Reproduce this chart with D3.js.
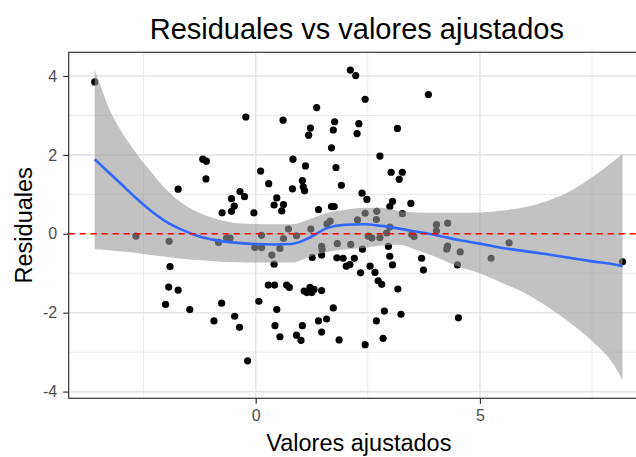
<!DOCTYPE html>
<html>
<head>
<meta charset="utf-8">
<script src="https://cdn.jsdelivr.net/npm/d3@7"></script>
<style>
  body { margin: 0; background: #fff; }
  text { font-family: "Liberation Sans", Arial, sans-serif; }
</style>
</head>
<body>
<svg id="chart" width="636" height="457"></svg>
<script>
// Fitted values (x) and residuals (y) of the model
const fitted = [
  -3.59, -1.73, -1.18, -1.10, -1.11, -0.75, -0.54, -0.54, -0.48, -0.35, -0.25, -0.22, -0.04, 0.11, 0.29, 0.47,
  0.41, 0.62, 0.58, 0.61, 0.83, 0.82, 1.04, 1.06, 1.09, 1.11, 1.18, 1.22, 1.36, 1.40, 1.69, 1.73,
  1.76, 1.69, 1.75, 1.79, 1.91, 2.11, 2.23, 2.44, 2.26, 2.30, 2.37, 2.48, 2.77, 3.02, 3.27, 3.20,
  3.16, 3.05, 2.99, 3.46, 3.85,
  -2.67, -1.93, -0.83, -0.65, -0.57, -0.02, 0.13, 0.13, 0.36, 0.54, 0.62, 0.73, 0.91, 1.23, 1.47, 1.59,
  1.66, 1.82, 2.12, 2.27, 2.44, 2.51, 2.70, 2.69, 2.77, 2.92, 2.59, 2.99, 3.27, 3.48, 3.53, 4.03,
  4.28, 4.03, 4.28, 4.26, 4.56, 5.25, 5.65,
  -1.91, -1.94, -1.73, -2.01, -1.47, -0.93, -0.76, -0.47, -0.36, -0.18, 0.07, 0.41, 0.28, 0.42, 0.69, 0.75,
  0.47, 0.43, 0.54, 1.04, 0.91, 1.01, 1.08, 1.14, 1.21, 1.25, 1.30, 1.47, 1.26, 1.47, 1.48, 1.40,
  1.58, 1.47, 1.73, 1.86, 2.44, 1.81, 1.95, 2.02, 2.10, 2.20, 2.38, 2.34, 2.55, 2.66, 2.73, 2.81,
  3.17, 2.96, 2.99, 3.05, 2.87, 2.69, 3.24, 2.84, 3.70, 3.74, 4.50, 4.52, 8.18
];
const residuals = [
  3.85, 1.13, 1.89, 1.84, 1.39, 0.53, 0.89, 0.57, 0.70, 1.07, 0.94, 2.96, 0.53, 1.59, 1.27, 0.91,
  0.73, 0.74, 0.58, 2.88, 1.89, 1.14, 1.35, 1.19, 1.09, 1.72, 2.50, 2.68, 3.20, 0.61, 2.18, 2.63,
  2.84, 0.69, 0.69, 1.68, 1.23, 4.15, 4.01, 3.41, 2.54, 2.79, 1.03, 0.87, 1.97, 1.56, 1.56, 1.38,
  2.67, 0.82, 0.69, 0.77, 3.53,
  -0.06, -0.19, -0.22, -0.11, -0.11, -0.35, -0.04, -0.35, -0.54, -0.37, -0.12, 0.12, -0.05, 0.12, -0.32, 0.25,
  0.32, -0.25, -0.27, 0.35, 0.52, -0.06, 0.57, 0.36, -0.10, 0.02, -0.11, 0.17, 0.51, -0.02, -0.07, 0.23,
  0.27, 0.07, -0.31, -0.39, -0.46, -0.62, -0.23,
  -0.83, -1.35, -1.43, -1.79, -1.92, -2.21, -1.76, -2.09, -2.37, -3.22, -1.71, -0.77, -1.30, -1.30, -1.30, -1.36,
  -1.92, -2.33, -2.61, -2.33, -2.57, -2.70, -1.45, -1.49, -1.36, -1.49, -1.41, -1.44, -0.60, -0.54, -0.40, -2.21,
  -2.16, -2.49, -1.88, -2.69, -2.81, -0.61, -0.62, -0.82, -0.78, -0.62, -0.39, -0.99, -0.82, -0.98, -1.19, -1.28,
  -1.40, -0.32, -0.57, -0.79, -1.96, -2.21, -2.04, -2.65, -0.62, -0.92, -0.79, -2.13, -0.71
];

// Loess smoother of the residuals with its confidence band
const smoothX   = [-3.59, -3.45, -3.3, -3.15, -3.0, -2.7, -2.4, -2.0, -1.6, -1.2, -0.8, -0.4, 0.0, 0.4, 0.8, 1.2, 1.6,
                   2.0, 2.4, 2.8, 3.2, 3.6, 4.0, 4.5, 5.0, 5.5, 6.0, 6.5, 7.0, 7.5, 8.0, 8.18];
const smoothFit = [1.89, 1.74, 1.58, 1.42, 1.26, 0.94, 0.64, 0.31, 0.08, -0.09, -0.18, -0.23, -0.26, -0.27, -0.26, -0.10, 0.15,
                   0.23, 0.24, 0.20, 0.13, 0.05, -0.03, -0.15, -0.25, -0.36, -0.44, -0.52, -0.61, -0.70, -0.78, -0.82];
const smoothLo  = [-0.39, -0.40, -0.42, -0.43, -0.45, -0.48, -0.53, -0.58, -0.64, -0.67, -0.71, -0.72, -0.73, -0.73, -0.73, -0.58, -0.46,
                   -0.40, -0.36, -0.30, -0.28, -0.42, -0.58, -0.82, -1.00, -1.25, -1.50, -1.85, -2.25, -2.72, -3.35, -3.71];
const smoothHi  = [4.16, 3.72, 3.26, 2.90, 2.60, 2.10, 1.66, 1.13, 0.74, 0.50, 0.35, 0.27, 0.25, 0.24, 0.24, 0.37, 0.53,
                   0.61, 0.66, 0.66, 0.58, 0.54, 0.53, 0.53, 0.54, 0.59, 0.67, 0.83, 1.07, 1.43, 1.86, 2.03];

const xTicks = [0, 5];
const yTicks = [-4, -2, 0, 2, 4];
const xMinor = [-2.5, 2.5, 7.5];
const yMinor = [-3, -1, 1, 3];
const xDomain = [-4.17, 8.77];
const yDomain = [-4.17, 4.60];

const titleText = "Residuales vs valores ajustados";
const xTitle = "Valores ajustados";
const yTitle = "Residuales";

const svg = d3.select("#chart");
const panel = { left: 68.7, right: 649, top: 52.3, bottom: 398.3 };

const x = d3.scaleLinear().domain(xDomain).range([panel.left, panel.right]);
const y = d3.scaleLinear().domain(yDomain).range([panel.bottom, panel.top]);

svg.append("rect").attr("width", 636).attr("height", 457).attr("fill", "#fff");

svg.append("clipPath").attr("id", "panel-clip")
  .append("rect")
  .attr("x", panel.left).attr("y", panel.top)
  .attr("width", panel.right - panel.left).attr("height", panel.bottom - panel.top);

const grid = svg.append("g");
// minor grid
grid.selectAll(".vminor").data(xMinor).join("line")
  .attr("x1", d => x(d)).attr("x2", d => x(d))
  .attr("y1", panel.top).attr("y2", panel.bottom)
  .attr("stroke", "#ebebeb").attr("stroke-width", 1);
grid.selectAll(".hminor").data(yMinor).join("line")
  .attr("y1", d => y(d)).attr("y2", d => y(d))
  .attr("x1", panel.left).attr("x2", panel.right)
  .attr("stroke", "#ebebeb").attr("stroke-width", 1);
// major grid
grid.selectAll(".vmajor").data(xTicks).join("line")
  .attr("x1", d => x(d)).attr("x2", d => x(d))
  .attr("y1", panel.top).attr("y2", panel.bottom)
  .attr("stroke", "#e6e6e6").attr("stroke-width", 1.6);
grid.selectAll(".hmajor").data(yTicks).join("line")
  .attr("y1", d => y(d)).attr("y2", d => y(d))
  .attr("x1", panel.left).attr("x2", panel.right)
  .attr("stroke", "#e6e6e6").attr("stroke-width", 1.6);

const plot = svg.append("g").attr("clip-path", "url(#panel-clip)");

// observations
plot.selectAll("circle").data(fitted.map((f, i) => [f, residuals[i]])).join("circle")
  .attr("cx", d => x(d[0])).attr("cy", d => y(d[1]))
  .attr("r", 3.6).attr("fill", "#000");

// confidence band
const band = smoothX.map((v, i) => ({ x: v, lo: smoothLo[i], hi: smoothHi[i], fit: smoothFit[i] }));
plot.append("path").datum(band)
  .attr("d", d3.area().curve(d3.curveMonotoneX)
    .x(d => x(d.x)).y0(d => y(d.lo)).y1(d => y(d.hi)))
  .attr("fill", "#999999").attr("fill-opacity", 0.6);

// smoother
plot.append("path").datum(band)
  .attr("d", d3.line().curve(d3.curveMonotoneX).x(d => x(d.x)).y(d => y(d.fit)))
  .attr("fill", "none").attr("stroke", "#3366FF").attr("stroke-width", 2.6);

// reference line at zero
plot.append("line")
  .attr("x1", panel.left).attr("x2", panel.right)
  .attr("y1", y(0)).attr("y2", y(0))
  .attr("stroke", "#ff0000").attr("stroke-width", 1.5)
  .attr("stroke-dasharray", "6,5");

// panel border
svg.append("rect")
  .attr("x", panel.left).attr("y", panel.top)
  .attr("width", panel.right - panel.left).attr("height", panel.bottom - panel.top)
  .attr("fill", "none").attr("stroke", "#333333").attr("stroke-width", 1.2);

// axes
const fmt = d => String(d);
const xAxis = svg.append("g").attr("transform", `translate(0,${panel.bottom})`)
  .call(d3.axisBottom(x).tickValues(xTicks).tickFormat(fmt).tickSize(5.5).tickSizeOuter(0).tickPadding(6));
const yAxis = svg.append("g").attr("transform", `translate(${panel.left},0)`)
  .call(d3.axisLeft(y).tickValues(yTicks).tickFormat(fmt).tickSize(5.5).tickSizeOuter(0).tickPadding(6));
[xAxis, yAxis].forEach(a => {
  a.select(".domain").remove();
  a.selectAll(".tick line").attr("stroke", "#333333").attr("stroke-width", 1.2);
  a.selectAll(".tick text").attr("fill", "#4d4d4d")
    .style("font-family", "'Liberation Sans', Arial, sans-serif").style("font-size", "16px");
});

// titles
svg.append("text")
  .attr("x", (panel.left + panel.right) / 2 - 2).attr("y", 39)
  .attr("text-anchor", "middle").attr("font-size", 29).attr("fill", "#000")
  .text(titleText);
svg.append("text")
  .attr("x", (panel.left + panel.right) / 2).attr("y", 451)
  .attr("text-anchor", "middle").attr("font-size", 23.5).attr("fill", "#000")
  .text(xTitle);
svg.append("text")
  .attr("transform", `translate(31.5,${(panel.top + panel.bottom) / 2}) rotate(-90)`)
  .attr("text-anchor", "middle").attr("font-size", 23.5).attr("fill", "#000")
  .text(yTitle);
</script>
</body>
</html>
